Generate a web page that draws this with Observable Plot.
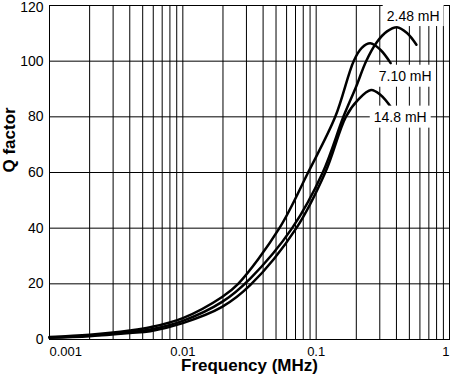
<!DOCTYPE html>
<html>
<head>
<meta charset="utf-8">
<script src="https://cdn.jsdelivr.net/npm/d3@7"></script>
<script src="https://cdn.jsdelivr.net/npm/@observablehq/plot@0.6"></script>
<style>
  body { margin: 0; background: #fff; }
  #chart svg { font-family: "Liberation Sans", Arial, Helvetica, sans-serif; }
</style>
</head>
<body>
<div id="chart"></div>
<script>
// ---- data ----
const seriesNames = ["2.48 mH", "7.10 mH", "14.8 mH"];

const freq248 = [0.001, 0.002, 0.004, 0.0057, 0.01, 0.0197, 0.032, 0.066, 0.112, 0.160, 0.2, 0.237, 0.285, 0.34, 0.404, 0.48, 0.565];
const q248    = [0.7,   1.4,   2.7,   3.6,    6.7,  13.5,   21.9,  40,    60,    80,    91,  100,   106.8, 110.7, 112.2, 110.1, 105.9];

const freq710 = [0.001, 0.002, 0.004, 0.0057, 0.01, 0.0197, 0.026, 0.053, 0.087, 0.139, 0.191, 0.219, 0.255, 0.303, 0.362];
const q710    = [0.9,   1.7,   3.2,   4.4,    7.7,  15.3,   20,    40,    60,    80,    100,   104.7, 106.4, 104.1, 99.3];

const freq148 = [0.001, 0.002, 0.004, 0.0057, 0.01, 0.0197, 0.032, 0.071, 0.117, 0.167, 0.206, 0.258, 0.303, 0.37];
const q148    = [0.6,   1.2,   2.3,   3.0,    5.9,  11.7,   19.5,  40,    60,    80,    86.1,  89.6,  87.9,  83.0];

const labelFreq = [0.534, 0.465, 0.427];
const labelQ    = [116.2, 94.4, 79.7];

const tickFreqs  = [0.001, 0.01, 0.1, 1];
const tickLabels = ["0.001", "0.01", "0.1", "1"];
const qTicks = [0, 20, 40, 60, 80, 100, 120];
const decadeStarts = [0.001, 0.01, 0.1];
const multipliers = [1, 2, 3, 4, 5, 6, 7, 8, 9];

// ---- build tables ----
const rows = [];
[[freq248, q248, seriesNames[0]], [freq710, q710, seriesNames[1]], [freq148, q148, seriesNames[2]]]
  .forEach(([fs, qs, name]) => fs.forEach((f, i) => rows.push({series: name, f, q: qs[i]})));
const gridFreqs = decadeStarts.flatMap(d => multipliers.map(m => +(d * m).toPrecision(3))).concat([1]);
const labels = seriesNames.map((s, i) => ({name: s, f: labelFreq[i], q: labelQ[i]}));
const fmt = d => tickLabels[tickFreqs.indexOf(d)];
const qLower = qTicks.slice(0, -1);
const qTop = qTicks.slice(-1);

const chart = Plot.plot({
  width: 450,
  height: 380,
  marginLeft: 49,
  marginRight: 1,
  marginTop: 5,
  marginBottom: 41,
  style: {fontFamily: '"Liberation Sans", Arial, Helvetica, sans-serif', fontSize: "13px", color: "black", background: "white"},
  x: {type: "log", domain: [0.001, 1]},
  y: {domain: [0, 120]},
  marks: [
    Plot.ruleX(gridFreqs, {stroke: "black", strokeWidth: 1}),
    Plot.ruleY(qTicks, {stroke: "black", strokeWidth: 1}),
    Plot.frame({stroke: "black"}),
    Plot.axisX([tickFreqs[0]], {tickSize: 0, tickPadding: 7, tickFormat: fmt, textAnchor: "start", label: null, fontSize: 13}),
    Plot.axisX([tickFreqs[1], tickFreqs[2]], {tickSize: 0, tickPadding: 7, tickFormat: fmt, label: null, fontSize: 13}),
    Plot.axisX([tickFreqs[3]], {tickSize: 0, tickPadding: 7, tickFormat: fmt, textAnchor: "end", label: null, fontSize: 13}),
    Plot.axisY(qLower, {tickSize: 0, tickPadding: 6, label: null, fontSize: 14}),
    Plot.axisY(qTop, {tickSize: 0, tickPadding: 6, label: null, fontSize: 14, dy: 2}),
    Plot.line(rows, {x: "f", y: "q", z: "series", stroke: "black", strokeWidth: 2.5, curve: "catmull-rom"}),
    Plot.text(labels, {x: "f", y: "q", text: "name", fontSize: 14, fill: "black"}),
    Plot.text(["Frequency (MHz)"], {frameAnchor: "bottom", dy: 31, fontWeight: "bold", fontSize: 17, fill: "black"}),
    Plot.text(["Q factor"], {frameAnchor: "left", dx: -40, rotate: -90, fontWeight: "bold", fontSize: 17, fill: "black"})
  ]
});

document.getElementById("chart").append(chart);

// white boxes behind curve labels
const svgns = "http://www.w3.org/2000/svg";
Array.from(chart.querySelectorAll("text"))
  .filter(t => seriesNames.includes(t.textContent.trim()))
  .forEach(t => {
    const b = t.getBBox();
    const r = document.createElementNS(svgns, "rect");
    r.setAttribute("x", b.x - 4);
    r.setAttribute("y", b.y - 3.5);
    r.setAttribute("width", b.width + 8);
    r.setAttribute("height", b.height + 6);
    r.setAttribute("fill", "white");
    r.setAttribute("stroke", "none");
    const tr = t.getAttribute("transform");
    if (tr) r.setAttribute("transform", tr);
    t.parentNode.insertBefore(r, t);
  });
</script>
</body>
</html>
